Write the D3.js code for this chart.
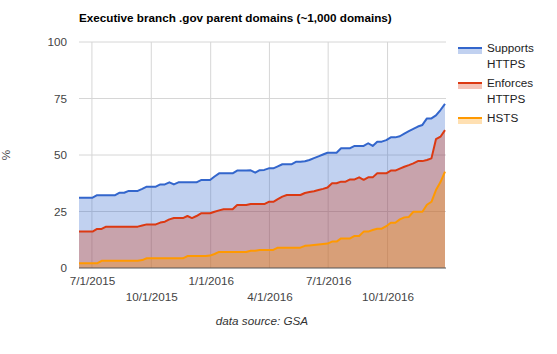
<!DOCTYPE html>
<html>
<head>
<meta charset="utf-8">
<script src="https://cdn.jsdelivr.net/npm/d3@7"></script>
<style>
  body { margin: 0; background: #fff; }
  svg { display: block; font-family: Arial, "Liberation Sans", sans-serif; }
</style>
</head>
<body>
<svg></svg>
<script>
// weekly samples
var dates = ["2015-06-11","2015-06-18","2015-06-25","2015-07-02","2015-07-09","2015-07-16","2015-07-23","2015-07-30",
  "2015-08-06","2015-08-13","2015-08-20","2015-08-27","2015-09-03","2015-09-10","2015-09-17","2015-09-24",
  "2015-10-01","2015-10-08","2015-10-15","2015-10-22","2015-10-29","2015-11-05","2015-11-12","2015-11-19","2015-11-26",
  "2015-12-03","2015-12-10","2015-12-17","2015-12-24","2015-12-31","2016-01-07","2016-01-14","2016-01-21","2016-01-28",
  "2016-02-04","2016-02-11","2016-02-18","2016-02-25","2016-03-03","2016-03-10","2016-03-17","2016-03-24","2016-03-31",
  "2016-04-07","2016-04-14","2016-04-21","2016-04-28","2016-05-05","2016-05-12","2016-05-19","2016-05-26",
  "2016-06-02","2016-06-09","2016-06-16","2016-06-23","2016-06-30","2016-07-07","2016-07-14","2016-07-21","2016-07-28",
  "2016-08-04","2016-08-11","2016-08-18","2016-08-25","2016-09-01","2016-09-08","2016-09-15","2016-09-22","2016-09-29",
  "2016-10-06","2016-10-13","2016-10-20","2016-10-27","2016-11-03","2016-11-10","2016-11-17","2016-11-24",
  "2016-12-01","2016-12-08","2016-12-15","2016-12-22","2016-12-29"];

var supports = [31.1,31.1,31.1,31.1,32.2,32.2,32.2,32.2,32.2,33.3, 33.3,34.1,34.1,34.1,35.0,36.0,36.0,36.0,37.0,37.0,
  37.9,37.0,37.9,37.9,37.9,37.9,37.9,38.9,38.9,38.9, 40.5,41.9,41.9,41.9,41.9,43.1,43.1,43.1,43.2,42.2,
  43.3,43.4,44.1,44.1,45.0,45.9,45.9,45.9,47.0,47.0, 47.2,47.8,48.6,49.4,50.2,51.0,51.0,51.0,53.0,53.0,
  53.0,54.0,54.0,54.0,55.2,54.0,55.9,55.9,56.6,57.8, 57.8,58.3,59.5,60.6,61.6,62.6,63.3,66.2,66.2,67.5,
  69.9,72.6];

var enforces = [16.1,16.1,16.1,16.1,17.3,17.3,18.3,18.3,18.3,18.3, 18.3,18.3,18.3,18.3,18.8,19.3,19.3,19.3,20.1,20.5,
  21.5,22.1,22.1,22.1,23.0,22.1,23.0,24.2,24.2,24.2, 24.9,25.5,26.0,26.0,26.0,27.9,27.9,27.9,28.3,28.3,
  28.3,28.3,29.3,29.3,30.5,31.6,32.3,32.3,32.3,32.3, 33.2,33.6,34.0,34.5,35.0,35.6,37.5,37.5,38.2,38.2,
  39.2,39.2,40.1,39.0,40.1,40.1,41.9,41.9,41.9,43.1, 43.1,44.0,44.8,45.5,46.3,47.3,47.3,47.8,48.5,57.0,
  58.1,61.0];

var hsts = [2.1,2.1,2.1,2.1,2.1,3.2,3.2,3.2,3.2,3.2, 3.2,3.2,3.2,3.2,3.5,4.3,4.3,4.3,4.3,4.3,
  4.3,4.3,4.3,4.3,5.3,5.3,5.3,5.3,5.3,5.5, 6.2,7.1,7.1,7.1,7.1,7.1,7.1,7.1,7.6,7.6,
  8.0,8.0,8.0,8.0,9.0,9.0,9.0,9.0,9.0,9.0, 9.8,10.0,10.2,10.4,10.6,10.8,11.7,11.7,13.1,13.1,
  13.1,14.2,14.2,16.1,16.1,16.8,17.4,17.4,18.5,20.0, 20.0,21.5,22.4,22.6,24.9,24.9,24.9,28.0,29.3,34.5,
  38.0,42.6];

var seriesNames = [["Supports", "HTTPS"], ["Enforces", "HTTPS"], ["HSTS"]];
var seriesColors = ["#3366cc", "#dc3912", "#ff9900"];
var xTicks = ["2015-07-01","2015-10-01","2016-01-01","2016-04-01","2016-07-01","2016-10-01"];
var yTicks = [0, 25, 50, 75, 100];

var drawChart = function() {
  var width = 557, height = 354;
  var left = 79, right = 445, top = 42, bottom = 268;
  var parse = d3.timeParse("%Y-%m-%d");
  var xs = dates.map(parse);
  var series = [supports, enforces, hsts];

  var svg = d3.select("svg")
    .attr("width", width)
    .attr("height", height);

  var x = d3.scaleTime()
    .domain(d3.extent(xs))
    .range([left, right]);
  var y = d3.scaleLinear()
    .domain([0, 100])
    .range([bottom, top]);

  // title
  svg.append("text")
    .attr("x", left)
    .attr("y", 22)
    .attr("font-size", 11.7)
    .attr("font-weight", "bold")
    .attr("fill", "#000")
    .text("Executive branch .gov parent domains (~1,000 domains)");

  // gridlines
  svg.append("g").selectAll("line")
    .data(yTicks.slice(1))
    .enter()
    .append("line")
    .attr("x1", left).attr("x2", right + 1)
    .attr("y1", function(d) { return y(d); })
    .attr("y2", function(d) { return y(d); })
    .attr("stroke", "#d6d6d6");
  svg.append("g").selectAll("line")
    .data(xTicks)
    .enter()
    .append("line")
    .attr("x1", function(d) { return x(parse(d)); })
    .attr("x2", function(d) { return x(parse(d)); })
    .attr("y1", top).attr("y2", bottom)
    .attr("stroke", "#d6d6d6");

  // areas then lines
  var area = d3.area()
    .x(function(d, i) { return x(xs[i]); })
    .y0(y(0))
    .y1(function(d) { return y(d); });
  var line = d3.line()
    .x(function(d, i) { return x(xs[i]); })
    .y(function(d) { return y(d); });

  svg.append("g").selectAll("path")
    .data(series)
    .enter()
    .append("path")
    .attr("d", area)
    .attr("fill", function(d, i) { return seriesColors[i]; })
    .attr("fill-opacity", 0.3);

  svg.append("line")
    .attr("x1", left).attr("x2", right + 1)
    .attr("y1", bottom).attr("y2", bottom)
    .attr("stroke", "#555")
    .attr("stroke-width", 1.2);

  svg.append("g").selectAll("path")
    .data(series)
    .enter()
    .append("path")
    .attr("d", line)
    .attr("fill", "none")
    .attr("stroke", function(d, i) { return seriesColors[i]; })
    .attr("stroke-width", 2)
    .attr("stroke-linejoin", "round");

  // axes
  var yAxis = svg.append("g")
    .attr("transform", "translate(" + left + ",0)")
    .call(d3.axisLeft(y).tickValues(yTicks).tickSize(0).tickPadding(12));
  yAxis.select(".domain").remove();
  yAxis.selectAll("text")
    .attr("font-size", 11.7)
    .attr("fill", "#444")
    .attr("font-family", "Arial, 'Liberation Sans', sans-serif");

  var xAxis = svg.append("g")
    .attr("transform", "translate(0," + bottom + ")")
    .call(d3.axisBottom(x)
      .tickValues(xTicks.map(parse))
      .tickFormat(d3.timeFormat("%-m/%-d/%Y"))
      .tickSize(0));
  xAxis.select(".domain").remove();
  xAxis.selectAll("text")
    .attr("y", function(d, i) { return i % 2 == 0 ? 9 : 25; })
    .attr("font-size", 11.7)
    .attr("fill", "#444")
    .attr("font-family", "Arial, 'Liberation Sans', sans-serif");

  svg.append("text")
    .attr("transform", "translate(10,155) rotate(-90)")
    .attr("text-anchor", "middle")
    .attr("font-size", 11.7)
    .attr("fill", "#444")
    .text("%");

  svg.append("text")
    .attr("x", 262)
    .attr("y", 325)
    .attr("text-anchor", "middle")
    .attr("font-size", 11.7)
    .attr("font-style", "italic")
    .attr("fill", "#333")
    .text("data source: GSA");

  // legend
  var legendY = [48, 83, 118];
  var legend = svg.append("g").selectAll("g")
    .data(seriesNames)
    .enter()
    .append("g")
    .attr("transform", function(d, i) { return "translate(458," + legendY[i] + ")"; });
  legend.append("rect")
    .attr("x", 0).attr("y", 0)
    .attr("width", 24).attr("height", 6)
    .attr("fill", function(d, i) { return seriesColors[i]; })
    .attr("fill-opacity", 0.3);
  legend.append("line")
    .attr("x1", 0).attr("x2", 24)
    .attr("y1", 0).attr("y2", 0)
    .attr("stroke", function(d, i) { return seriesColors[i]; })
    .attr("stroke-width", 2);
  legend.selectAll("text")
    .data(function(d) { return d; })
    .enter()
    .append("text")
    .attr("x", 29)
    .attr("y", function(d, j) { return 4 + j * 16; })
    .attr("font-size", 11.7)
    .attr("fill", "#222")
    .text(function(d) { return d; });
};

drawChart();
</script>
</body>
</html>
